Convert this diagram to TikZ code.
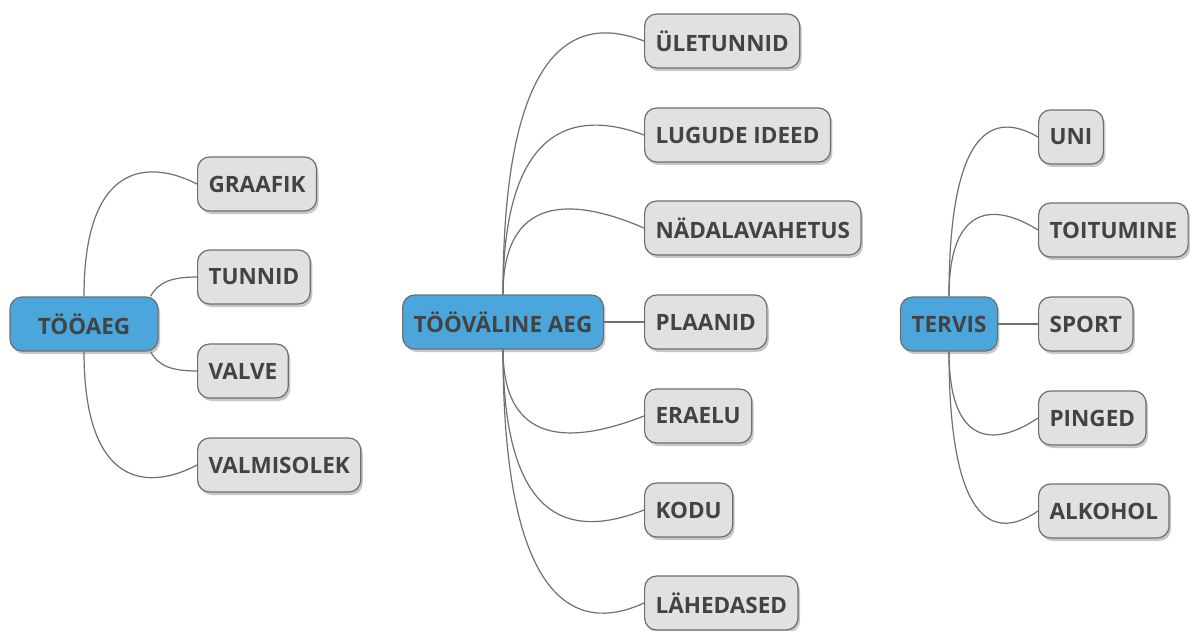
\documentclass[tikz,border=0pt]{standalone}
\usepackage{fontspec}
\setmainfont{Open Sans}
\usetikzlibrary{shadows,calc}
\definecolor{rootc}{HTML}{4AA6DB}
\definecolor{leafc}{HTML}{E1E1E1}
\definecolor{bordc}{HTML}{6E6E6E}
\definecolor{txtc}{HTML}{434343}
\definecolor{edgec}{HTML}{707070}
\begin{document}
\begin{tikzpicture}[x=1pt,y=-1pt,
  box/.style={rounded corners=12pt, draw=bordc, line width=1.2pt, minimum height=54pt,
    inner xsep=11pt, inner ysep=0pt, font=\fontsize{22.5}{22.5}\selectfont\bfseries, text=txtc,
    drop shadow={shadow xshift=2pt, shadow yshift=-3pt, opacity=0.22, fill=black}},
  leaf/.style={box, fill=leafc, anchor=west},
  root/.style={box, fill=rootc},
  edge/.style={draw=edgec, line width=1.2pt}]
\useasboundingbox (0,0) rectangle (1190,631);
\fill[white] (0,0) rectangle (1190,631);

% roots
\node[root, minimum width=148pt] (T) at (84,324) {TÖÖAEG};
\node[root] (V) at (503,322) {TÖÖVÄLINE AEG};
\node[root] (R) at (949,324) {TERVIS};

% leaves of TÖÖAEG
\node[leaf] (graafik) at (197,184) {GRAAFIK};
\node[leaf] (tunnid) at (197,277) {TUNNID};
\node[leaf] (valve) at (197,371) {VALVE};
\node[leaf] (valm) at (197,465) {VALMISOLEK};

% leaves of TÖÖVÄLINE AEG
\node[leaf] (ule) at (644,41) {ÜLETUNNID};
\node[leaf] (lug) at (644,135) {LUGUDE IDEED};
\node[leaf] (nad) at (644,228) {NÄDALAVAHETUS};
\node[leaf] (pla) at (644,322) {PLAANID};
\node[leaf] (era) at (644,416) {ERAELU};
\node[leaf] (kod) at (644,510) {KODU};
\node[leaf] (lah) at (644,603) {LÄHEDASED};

% leaves of TERVIS
\node[leaf] (uni) at (1038,137) {UNI};
\node[leaf] (toi) at (1038,230) {TOITUMINE};
\node[leaf] (spo) at (1038,324) {SPORT};
\node[leaf] (pin) at (1038,418) {PINGED};
\node[leaf] (alk) at (1038,511) {ALKOHOL};

\coordinate (Tne) at ($(T.north east)+(-8,0)$);
\coordinate (Tse) at ($(T.south east)+(-8,0)$);

% edges TÖÖAEG
\draw[edge] (T.north) .. controls (84,160) and (150,160) .. (graafik.west);
\draw[edge] (Tne) .. controls (158,282) and (172,277) .. (tunnid.west);
\draw[edge] (Tse) .. controls (158,366) and (172,371) .. (valve.west);
\draw[edge] (T.south) .. controls (84,490) and (150,490) .. (valm.west);

% edges TÖÖVÄLINE AEG
\draw[edge] (V.north) .. controls (503,20) and (590,20) .. (ule.west);
\draw[edge] (V.north) .. controls (503,113) and (585,113) .. (lug.west);
\draw[edge] (V.north) .. controls (503,196) and (570,196) .. (nad.west);
\draw[edge] (V.east) -- (pla.west);
\draw[edge] (V.south) .. controls (503,445) and (570,445) .. (era.west);
\draw[edge] (V.south) .. controls (503,535) and (580,535) .. (kod.west);
\draw[edge] (V.south) .. controls (503,628) and (590,628) .. (lah.west);

% edges TERVIS
\draw[edge] (R.north) .. controls (949,115) and (1000,115) .. (uni.west);
\draw[edge] (R.north) .. controls (949,203) and (995,203) .. (toi.west);
\draw[edge] (R.east) -- (spo.west);
\draw[edge] (R.south) .. controls (949,447) and (995,447) .. (pin.west);
\draw[edge] (R.south) .. controls (949,537) and (1000,537) .. (alk.west);
\end{tikzpicture}
\end{document}
